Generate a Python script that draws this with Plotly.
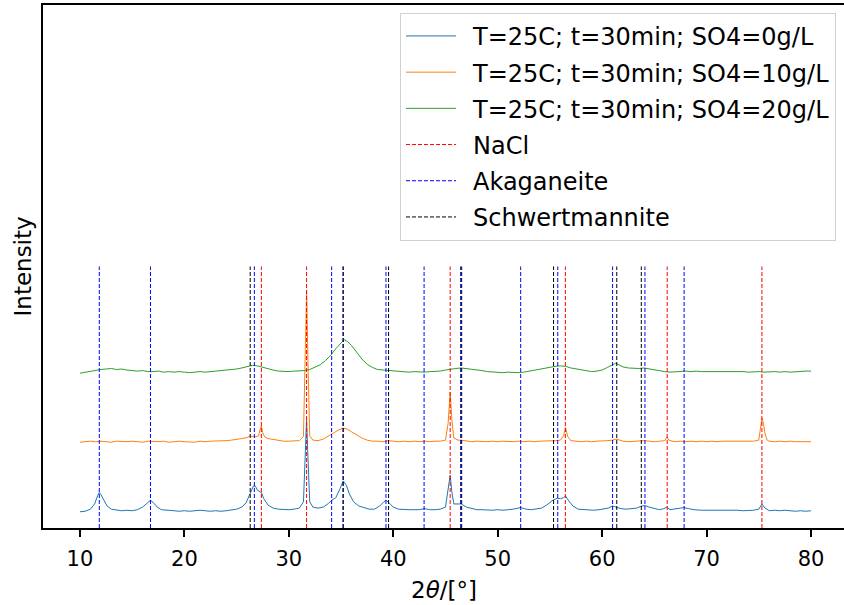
import plotly.graph_objects as go

# ---- XRD patterns (2theta in degrees, intensity in a.u. with vertical offsets) ----
two_theta_0 = [10.0, 10.5, 11.0, 11.4, 11.7, 11.85, 12.0, 12.3, 12.6, 13.0, 13.5, 14.0, 14.5, 15.0,
               15.5, 16.0, 16.4, 16.75, 17.0, 17.4, 17.8, 18.5, 19.0, 19.5, 20.0, 20.5, 21.0, 21.5,
               22.0, 22.5, 23.0, 23.5, 24.0, 24.5, 25.0, 25.5, 25.9, 26.3, 26.6, 26.8, 27.0, 27.37,
               27.6, 28.0, 28.5, 29.0, 29.5, 30.0, 30.5, 31.0, 31.4, 31.6, 31.7, 31.8, 32.0, 32.3,
               32.8, 33.3, 33.8, 34.1, 34.5, 34.9, 35.2, 35.5, 35.8, 36.2, 36.7, 37.2, 37.7, 38.2,
               38.7, 39.1, 39.3, 39.6, 40.0, 40.5, 41.0, 41.5, 42.0, 42.5, 43.0, 43.5, 44.0, 44.5,
               45.0, 45.3, 45.45, 45.6, 45.8, 46.2, 46.5, 47.0, 47.5, 48.0, 48.5, 49.0, 49.5, 50.0,
               50.5, 51.0, 51.5, 52.2, 52.7, 53.2, 53.7, 54.2, 54.7, 55.2, 55.7, 56.0, 56.3, 56.5,
               56.8, 57.2, 57.7, 58.2, 58.7, 59.2, 59.7, 60.2, 60.6, 61.0, 61.4, 61.8, 62.3, 62.8,
               63.3, 63.8, 64.1, 64.5, 65.0, 65.5, 65.9, 66.2, 66.5, 67.0, 67.5, 67.8, 68.3, 68.8,
               69.5, 70.0, 70.5, 71.0, 71.5, 72.0, 72.5, 73.0, 73.5, 74.0, 74.5, 75.0, 75.3, 75.6,
               76.0, 76.5, 77.0, 77.5, 78.0, 78.5, 79.0, 79.5, 80.0]
intensity_0 = [31, 32, 36, 46, 62, 68, 64, 52, 42, 36, 34, 33, 34, 33,
               35, 40, 47, 53, 49, 40, 35, 33, 33, 32, 33, 32, 33, 34,
               33, 32, 33, 32, 33, 34, 36, 40, 48, 66, 80, 80, 72, 68,
               56, 44, 38, 36, 35, 35, 36, 38, 50, 150, 208, 150, 50, 40,
               38, 40, 47, 53, 58, 75, 90, 82, 65, 50, 42, 39, 36, 36,
               42, 50, 53, 48, 40, 36, 35, 35, 35, 35, 37, 35, 35, 36,
               40, 80, 101, 70, 46, 46, 46, 40, 37, 35, 35, 34, 34, 35,
               34, 35, 36, 39, 36, 35, 36, 38, 44, 52, 57, 56, 58, 61,
               52, 42, 36, 35, 34, 34, 35, 36, 38, 42, 40, 37, 36, 37,
               38, 42, 43, 40, 37, 35, 37, 40, 35, 36, 38, 39, 37, 35,
               34, 34, 35, 35, 34, 35, 35, 34, 33, 33, 34, 36, 46, 38,
               33, 34, 33, 34, 33, 32, 33, 32, 33]

two_theta_10 = [10.0, 10.5, 11.0, 11.5, 12.0, 12.5, 13.0, 13.5, 14.0, 14.5, 15.0, 15.5, 16.0, 16.5,
                17.0, 17.5, 18.0, 18.5, 19.0, 19.5, 20.0, 20.5, 21.0, 21.5, 22.0, 22.5, 23.0, 23.5,
                24.0, 24.5, 25.0, 25.5, 26.0, 26.3, 26.7, 27.1, 27.25, 27.37, 27.5, 27.7, 28.0, 28.5,
                29.0, 29.5, 30.0, 30.5, 31.0, 31.4, 31.55, 31.7, 31.85, 32.0, 32.3, 32.8, 33.3, 33.8,
                34.3, 34.8, 35.2, 35.6, 36.0, 36.5, 37.0, 37.5, 38.0, 38.5, 39.0, 39.5, 40.0, 40.5,
                41.0, 41.5, 42.0, 42.5, 43.0, 43.5, 44.0, 44.5, 45.0, 45.25, 45.45, 45.6, 45.8, 46.2,
                46.5, 47.0, 47.5, 48.0, 48.5, 49.0, 49.5, 50.0, 50.5, 51.0, 51.5, 52.0, 52.5, 53.0,
                53.5, 54.0, 54.5, 55.0, 55.5, 56.0, 56.3, 56.5, 56.7, 57.0, 57.5, 58.0, 58.5, 59.0,
                59.5, 60.0, 60.5, 61.0, 61.3, 61.7, 62.0, 62.5, 63.0, 63.5, 64.0, 64.5, 65.0, 65.5,
                66.0, 66.2, 66.4, 66.7, 67.0, 67.5, 68.0, 68.5, 69.0, 69.5, 70.0, 70.5, 71.0, 71.5,
                72.0, 72.5, 73.0, 73.5, 74.0, 74.5, 75.0, 75.2, 75.3, 75.45, 75.6, 75.8, 76.0, 76.5,
                77.0, 77.5, 78.0, 78.5, 79.0, 79.5, 80.0]
intensity_10 = [164, 165, 166, 165, 166, 165, 164, 166, 165, 165, 166, 165, 164, 166,
                165, 165, 166, 164, 165, 166, 165, 165, 164, 166, 165, 166, 166, 167,
                167, 168, 169, 171, 173, 176, 174, 176, 188, 195, 182, 174, 171, 169,
                167, 166, 166, 166, 167, 175, 300, 452, 300, 176, 168, 167, 170, 176,
                182, 188, 191, 189, 184, 178, 172, 168, 166, 166, 165, 167, 166, 165,
                166, 165, 166, 165, 166, 165, 166, 166, 168, 200, 260, 210, 172, 168,
                168, 166, 165, 166, 165, 165, 166, 165, 166, 165, 165, 166, 165, 166,
                165, 166, 166, 167, 167, 168, 176, 192, 175, 167, 166, 165, 166, 165,
                166, 166, 167, 168, 170, 168, 166, 165, 166, 166, 167, 166, 165, 166,
                167, 174, 168, 166, 165, 166, 165, 166, 165, 166, 165, 166, 165, 166,
                166, 165, 166, 165, 166, 166, 168, 196, 210, 200, 180, 168, 166, 165,
                166, 165, 166, 165, 165, 166, 165]

two_theta_20 = [10.0, 10.5, 11.0, 11.5, 12.0, 12.5, 13.0, 13.5, 14.0, 14.5, 15.0, 15.5, 16.0, 16.5,
                17.0, 17.5, 18.0, 18.5, 19.0, 19.5, 20.0, 20.5, 21.0, 21.5, 22.0, 22.5, 23.0, 23.5,
                24.0, 24.5, 25.0, 25.5, 26.0, 26.5, 27.0, 27.5, 28.0, 28.5, 29.0, 29.5, 30.0, 30.5,
                31.0, 31.5, 32.0, 32.5, 33.0, 33.5, 34.0, 34.5, 35.0, 35.3, 35.6, 36.0, 36.5, 37.0,
                37.5, 38.0, 38.5, 39.0, 39.5, 40.0, 40.5, 41.0, 41.5, 42.0, 42.5, 43.0, 43.5, 44.0,
                44.5, 45.0, 45.5, 46.0, 46.5, 47.0, 47.5, 48.0, 48.5, 49.0, 49.5, 50.0, 50.5, 51.0,
                51.5, 52.0, 52.5, 53.0, 53.5, 54.0, 54.5, 55.0, 55.5, 56.0, 56.5, 57.0, 57.5, 58.0,
                58.5, 59.0, 59.5, 60.0, 60.5, 61.0, 61.3, 61.7, 62.0, 62.5, 63.0, 63.5, 64.0, 64.5,
                65.0, 65.5, 66.0, 66.5, 67.0, 67.5, 68.0, 68.5, 69.0, 69.5, 70.0, 70.5, 71.0, 71.5,
                72.0, 72.5, 73.0, 73.5, 74.0, 74.5, 75.0, 75.5, 76.0, 76.5, 77.0, 77.5, 78.0, 78.5,
                79.0, 79.5, 80.0]
intensity_20 = [296, 298, 300, 302, 303, 304, 305, 303, 304, 302, 301, 300, 301, 299,
                299, 300, 298, 299, 298, 299, 298, 297, 298, 299, 298, 299, 299, 300,
                301, 302, 304, 306, 308, 311, 310, 307, 304, 302, 300, 299, 299, 300,
                300, 301, 303, 307, 312, 320, 330, 343, 355, 360, 357, 349, 336, 323,
                313, 307, 303, 302, 301, 300, 300, 299, 298, 299, 298, 298, 299, 299,
                300, 302, 304, 305, 306, 305, 304, 302, 301, 299, 298, 298, 297, 298,
                297, 297, 298, 300, 302, 304, 306, 308, 309, 310, 309, 306, 304, 302,
                300, 299, 300, 302, 307, 313, 315, 311, 308, 306, 305, 305, 306, 304,
                302, 300, 299, 298, 299, 299, 300, 299, 300, 299, 299, 300, 299, 300,
                299, 299, 300, 299, 298, 299, 299, 298, 299, 299, 298, 299, 298, 299,
                300, 300, 300]

# ---- reference reflection positions (2theta) ----
nacl_peaks = [27.37, 31.70, 45.45, 56.48, 66.23, 75.30]
akaganeite_peaks = [11.85, 16.75, 26.70, 34.10, 35.20, 39.30, 42.95, 46.45, 52.20, 55.75,
                    61.00, 64.10, 67.85]
schwertmannite_peaks = [26.30, 35.20, 39.55, 46.55, 55.35, 61.40, 63.75]
marker_height = 500

series = [
    ("T=25C; t=30min; SO4=0g/L", two_theta_0, intensity_0, "#1f77b4"),
    ("T=25C; t=30min; SO4=10g/L", two_theta_10, intensity_10, "#ff7f0e"),
    ("T=25C; t=30min; SO4=20g/L", two_theta_20, intensity_20, "#2ca02c"),
]
references = [
    ("NaCl", nacl_peaks, "#ff0000"),
    ("Akaganeite", akaganeite_peaks, "#0000ff"),
    ("Schwertmannite", schwertmannite_peaks, "#000000"),
]

FONT = "DejaVu Sans"
GAP = "\u2002"  # spacing between legend line sample and label
fig = go.Figure()

for i, (name, xs, ys, color) in enumerate(series):
    fig.add_trace(go.Scatter(x=xs, y=ys, mode="lines", name=GAP + name, legendgroup=f"g{i}",
                             line=dict(color=color, width=1)))

for j, (name, peaks, color) in enumerate(references):
    vx, vy = [], []
    for p in peaks:
        vx += [p, p, None]
        vy += [0, marker_height, None]
    fig.add_trace(go.Scatter(x=vx, y=vy, mode="lines", name=GAP + name, legendgroup=f"r{j}",
                             line=dict(color=color, width=1, dash="4px,2px")))

fig.update_layout(
    width=844, height=605,
    margin=dict(l=43, r=0, t=5, b=77),
    plot_bgcolor="white", paper_bgcolor="white",
    font=dict(family=FONT, color="black"),
    showlegend=True,
    legend=dict(x=0.99, y=0.985, xanchor="right", yanchor="top",
                bgcolor="rgba(255,255,255,0.8)", bordercolor="#d0d0d0", borderwidth=1,
                font=dict(family=FONT, size=24), itemwidth=50, tracegroupgap=2),
    xaxis=dict(range=[6.46, 83.16], tickmode="array", tickvals=[10, 20, 30, 40, 50, 60, 70, 80],
               ticks="outside", ticklen=7, tickwidth=1.5, tickcolor="black",
               tickfont=dict(family=FONT, size=21), ticklabelstandoff=4,
               showline=True, linecolor="black", linewidth=1.5, mirror=True,
               showgrid=False, zeroline=False),
    yaxis=dict(range=[0, 1000], showticklabels=False, ticks="",
               showline=True, linecolor="black", linewidth=1.5,
               showgrid=False, zeroline=False),
    annotations=[
        dict(text="2<i>θ</i>/[°]", xref="paper", yref="paper", x=0.5, y=-0.118,
             xanchor="center", yanchor="middle", showarrow=False,
             font=dict(family=FONT, size=23)),
        dict(text="Intensity", xref="paper", yref="paper", x=-0.025, y=0.5,
             xanchor="center", yanchor="middle", textangle=-90, showarrow=False,
             font=dict(family=FONT, size=23)),
    ],
)

fig.write_html("out.html")
